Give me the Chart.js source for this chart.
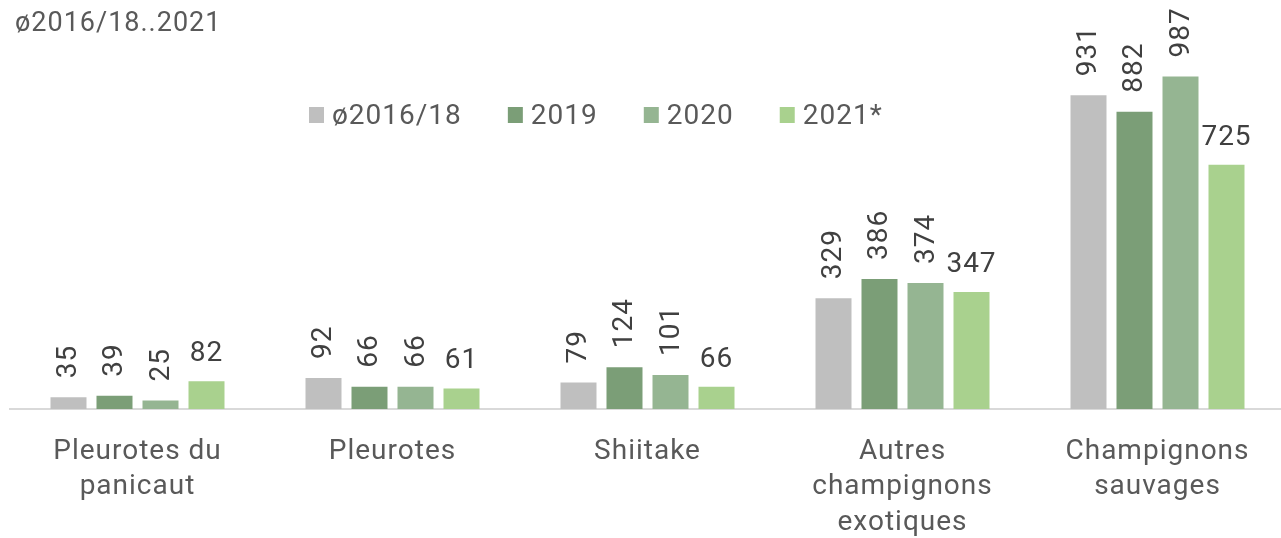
<!DOCTYPE html>
<html>
<head>
<meta charset="utf-8">
<script src="https://cdn.jsdelivr.net/npm/chart.js@4.4.0/dist/chart.umd.min.js"></script>
<style>
  html, body { margin: 0; padding: 0; background: #fff; overflow: hidden; }
  #wrap { position: relative; width: 1285px; height: 538px; }
</style>
</head>
<body>
<div id="wrap"><canvas id="mushChart" width="1285" height="538"></canvas></div>
<script>
const chartTitle = 'ø2016/18..2021';
const categories = [
    ['Pleurotes du', 'panicaut'],
    ['Pleurotes'],
    ['Shiitake'],
    ['Autres', 'champignons', 'exotiques'],
    ['Champignons', 'sauvages']
];
const seriesNames = ['ø2016/18', '2019', '2020', '2021*'];
const avg201618 = [35, 92, 79, 329, 931];
const val2019 = [39, 66, 124, 386, 882];
const val2020 = [25, 66, 101, 374, 987];
const val2021 = [82, 61, 66, 347, 725];
const seriesColors = ['#BFBFBF', '#7B9E77', '#95B592', '#A9D18E'];

const textColor = '#595959';
const labelColor = '#404040';
const fontFamily = 'Roboto, "Noto Sans", sans-serif';

// bar value labels: first three series rotated, last one horizontal
const valueLabels = {
    id: 'valueLabels',
    afterDatasetsDraw(chart) {
        const ctx = chart.ctx;
        ctx.save();
        ctx.letterSpacing = '1px';
        ctx.font = '28px ' + fontFamily;
        ctx.fillStyle = labelColor;
        chart.data.datasets.forEach((ds, i) => {
            const meta = chart.getDatasetMeta(i);
            meta.data.forEach((bar, j) => {
                const txt = String(ds.data[j]);
                if (i < 3) {
                    ctx.save();
                    ctx.translate(bar.x, bar.y - 19);
                    ctx.rotate(-Math.PI / 2);
                    ctx.textAlign = 'left';
                    ctx.textBaseline = 'middle';
                    ctx.fillText(txt, 0, 1);
                    ctx.restore();
                } else {
                    ctx.textAlign = 'center';
                    ctx.textBaseline = 'alphabetic';
                    ctx.fillText(txt, bar.x, bar.y - 20);
                }
            });
        });
        ctx.restore();
    }
};

// title top-left and legend row drawn on the canvas
const titleAndLegend = {
    id: 'titleAndLegend',
    beforeLayout(chart) {
        chart.ctx.letterSpacing = '1px';
    },
    beforeDraw(chart) {
        chart.ctx.letterSpacing = '1px';
    },
    afterDraw(chart) {
        const ctx = chart.ctx;
        ctx.save();
        ctx.letterSpacing = '1px';
        ctx.fillStyle = textColor;
        ctx.font = '27px ' + fontFamily;
        ctx.textAlign = 'left';
        ctx.textBaseline = 'alphabetic';
        ctx.fillText(chartTitle, 15, 31);

        ctx.font = '28px ' + fontFamily;
        let x = 309;
        chart.data.datasets.forEach(ds => {
            ctx.fillStyle = ds.backgroundColor;
            ctx.fillRect(x, 107, 15, 16);
            ctx.fillStyle = textColor;
            ctx.fillText(ds.label, x + 23, 124);
            x += 23 + ctx.measureText(ds.label).width + 46;
        });
        ctx.restore();
    }
};

const allValues = [avg201618, val2019, val2020, val2021];

const ctx = document.getElementById('mushChart').getContext('2d');
const chart = new Chart(ctx, {
    type: 'bar',
    data: {
        labels: categories,
        datasets: seriesNames.map((name, i) => ({
            label: name,
            data: allValues[i],
            backgroundColor: seriesColors[i],
            borderWidth: 0,
            categoryPercentage: 0.7216,
            barPercentage: 0.7826
        }))
    },
    options: {
        responsive: false,
        devicePixelRatio: 1,
        animation: false,
        layout: {
            padding: { left: 10, right: 0, top: 72, bottom: 0 }
        },
        plugins: {
            legend: { display: false },
            title: { display: false },
            tooltip: { enabled: false }
        },
        scales: {
            x: {
                grid: { display: false, drawTicks: false },
                border: { display: true, color: '#D9D9D9', width: 2 },
                ticks: {
                    color: textColor,
                    font: { family: fontFamily, size: 28, lineHeight: 1.27 },
                    padding: 25,
                    maxRotation: 0,
                    minRotation: 0,
                    autoSkip: false
                },
                afterFit: scale => { scale.height = 129; }
            },
            y: {
                display: false,
                min: 0,
                max: 1000
            }
        }
    },
    plugins: [titleAndLegend, valueLabels]
});
</script>
</body>
</html>
